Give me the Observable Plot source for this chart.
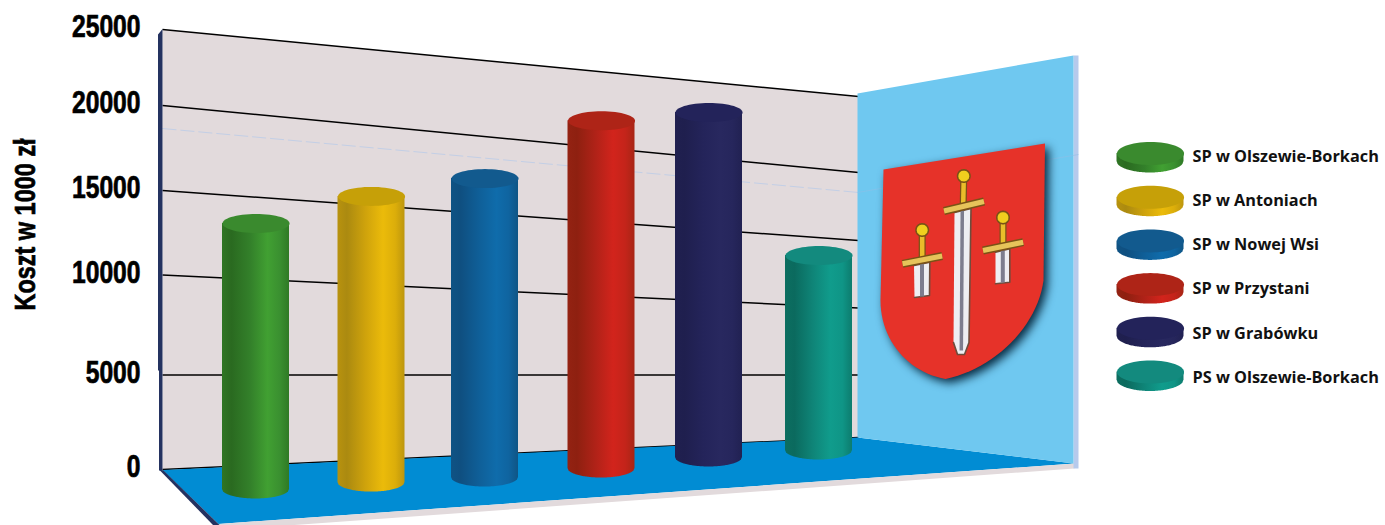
<!DOCTYPE html>
<html>
<head>
<meta charset="utf-8">
<script src="https://cdn.jsdelivr.net/npm/d3@7"></script>
<script src="https://cdn.jsdelivr.net/npm/@observablehq/plot@0.6"></script>
<style>
html,body{margin:0;padding:0;background:#fff;overflow:hidden}
svg{display:block}
</style>
</head>
<body>
<div id="chart"></div>
<script>
// ---- data ----
const categories = ["SP w Olszewie-Borkach","SP w Antoniach","SP w Nowej Wsi","SP w Przystani","SP w Grabówku","PS w Olszewie-Borkach"];
const values = [13050,14650,15700,19100,19590,11150];
const floorLevels = [-1070,-700,-430,50,635,1005];
const yTicks = [0,5000,10000,15000,20000,25000];
const yTitle = "Koszt w 1000 zł";

// ---- styles ----
const palette = [
  {top:"#3a8a2e",stops:["#2f7524","#2a6a20","#33802a","#41a032","#3a9030","#2f7a25"]},
  {top:"#c6a008",stops:["#b8920e","#ab8a10","#cfa30c","#ebbb0a","#dcae0a","#bd960e"]},
  {top:"#125a8e",stops:["#0f5384","#0f4f80","#0f5f98","#0f6cab","#0f64a0","#0f5585"]},
  {top:"#ae2417",stops:["#942212","#8e2010","#b02218","#d2241c","#c4241a","#a82515"]},
  {top:"#23235a",stops:["#202050","#1f1f4e","#24245a","#28285f","#26265c","#212152"]},
  {top:"#138a7e",stops:["#0c6e60","#0b6a5e","#0f8578","#109c8c","#0f9586","#0d7c6e"]}
];
const stopAt = [0,0.14,0.42,0.68,0.86,1];
const axisFont = "'Liberation Sans',sans-serif";
const legendFont = "'Open Sans',sans-serif";

// ---- layout ----
const W = 1385, H = 525;
const yDomain = [-3000,0,5000,10000,15000,20000,25000,26880];
const yRange  = [525,469,374.5,274.5,190,105,29,0];
const yp = d3.scaleLinear(yDomain,yRange);   // value -> pixel of the back wall's left edge
const yv = px => yp.invert(px);
const xCentres = [255.5,371,484.5,601,708.5,818.5];
const gridRight = {0:437,5000:374.5,10000:307.5,15000:240,20000:172,25000:96};

const pt = (x,y) => ({x,v:yv(y)});
const poly = (pts,o) => Plot.line(pts.map(p=>pt(p[0],p[1])),{x:"x",y:"v",stroke:"none",...o});

function ellipsePts(cx,cy,rx,ry){
  return d3.range(0,61).map(i=>{const a=i/60*2*Math.PI;return [cx+rx*Math.cos(a),cy+ry*Math.sin(a)];});
}
function cylinder(i,cx,topPx,botPx,rx,ry){
  const body = d3.range(-rx,rx+0.01,1).map(dx=>{
    const arc = ry*Math.sqrt(Math.max(0,1-dx*dx/(rx*rx)));
    return {x:cx+dx,y1:yv(botPx+arc),y2:yv(topPx)};
  });
  return [
    Plot.areaY(body,{x:"x",y1:"y1",y2:"y2",fill:`url(#cyl${i})`}),
    poly(ellipsePts(cx,topPx,rx,ry),{fill:palette[i].top})
  ];
}
function bez(p0,p1,p2,p3,n=24){
  return d3.range(0,n+1).map(k=>{const t=k/n,u=1-t;
    return [0,1].map(j=>u*u*u*p0[j]+3*u*u*t*p1[j]+3*u*t*t*p2[j]+t*t*t*p3[j]);});
}

function defsMark(){
  const defs = d3.create("svg:defs");
  palette.forEach((c,i)=>{
    const g = defs.append("linearGradient").attr("id",`cyl${i}`).attr("x1",0).attr("x2",1).attr("y1",0).attr("y2",0);
    c.stops.forEach((s,k)=>g.append("stop").attr("offset",stopAt[k]).attr("stop-color",s));
  });
  return defs.node();
}

function sword(pommel,grip,guardA,guardB,bladePts,stripe,r){
  const gold="#e9bd2a", dark="#7a5216";
  const soft="blur(0.5px)";
  const seg=(a,b,w,c)=>Plot.line([pt(...a),pt(...b)],{x:"x",y:"v",stroke:c,strokeWidth:w,strokeLinecap:"butt",imageFilter:soft});
  return [
    poly(bladePts,{fill:"#eeeef2",stroke:"#6e4c3c",strokeWidth:1.6,imageFilter:soft}),
    seg(stripe[0],stripe[1],stripe[2],"#7d7d8e"),
    seg(pommel,grip,7,dark),
    seg(pommel,grip,4.5,gold),
    seg(guardA,guardB,8,dark),
    seg(guardA,guardB,5,"#e6c35a"),
    poly(ellipsePts(pommel[0],pommel[1],r,r),{fill:"#f0cf1e",stroke:dark,strokeWidth:1.6,imageFilter:soft})
  ];
}

const shieldPts = [[883,169],[1044.5,143],[1043,280],
  ...bez([1043,280],[1037,325],[995,368],[945,378.5]),
  ...bez([945,378.5],[908,372],[880,340],[880,300]).slice(1)];

const legendDisc = i => 157+43.7*i;
const legendText = i => 156+44.2*i;

const marks = [
  defsMark,
  // back wall
  poly([[162,29],[858,96],[858,437],[162,469]],{fill:"#e2dadc"}),
  // gridlines
  Plot.link(yTicks,{x1:162,x2:858,y1:d=>d,y2:d=>yv(gridRight[d]),stroke:"#000",strokeWidth:1.5}),
  // pale wall line
  Plot.link([0],{x1:162,x2:858,y1:()=>yv(128),y2:()=>yv(192),stroke:"#c3cfe6",strokeWidth:1,strokeDasharray:"14 4"}),
  // left axis band
  poly([[157.5,34],[162,28.5],[162,470],[158.5,470],[158.5,370],[157.5,370]],{fill:"#243260"}),
  // floor
  poly([[162,469.5],[857,437],[1074,463],[218,523.5]],{fill:"#018cd3"}),
  poly([[218,523.5],[1074,463],[1074,468],[218,530]],{fill:"#e2dadc"}),
  poly([[158.5,469],[163,470],[219.5,525],[213,525]],{fill:"#243260"}),
  // right panel
  poly([[1073,55],[1078,55],[1078,468],[1073,468]],{fill:"#b6caec"}),
  poly([[857,93],[1073,55],[1073,463],[857,437]],{fill:"#6fc8f0"}),
  Plot.link([0],{x1:857,x2:1078,y1:()=>yv(192),y2:()=>yv(154),stroke:"#8fbfe6",strokeWidth:0.8,strokeOpacity:0.7}),
  // emblem
  poly(shieldPts,{fill:"#e63229",imageFilter:"drop-shadow(4px 4px 5px #072a40)"}),
  ...sword([963.3,175.5],[962.7,205],[943.5,210.5],[983.5,201],
    [[954,212],[970.5,208],[968.5,342],[964,354],[957,354],[953,342]],[[961.8,210],[960.8,350],3.5],6.2),
  ...sword([921.7,229.5],[921.7,258],[902,263.3],[941.7,255.5],
    [[913.5,265],[929.3,261.7],[929,295],[914,297]],[[921.5,263],[921.5,296],4],6.2),
  ...sword([1002.5,217],[1002.5,246],[982.5,250],[1022.7,241.7],
    [[995,251.7],[1009.3,248.3],[1009.3,281.7],[995,283.3]],[[1002.3,250],[1002.3,282],4],6.2),
  // cylinders
  ...categories.flatMap((c,i)=>cylinder(i,xCentres[i],yp(values[i]),yp(floorLevels[i]),33.5,9.5)),
  // legend discs and labels
  ...categories.flatMap((c,i)=>cylinder(i,1150,legendDisc(i)-4,legendDisc(i)+4,33.5,11.5)),
  Plot.text(categories,{x:()=>1192,y:(d,i)=>yv(legendText(i)),text:d=>d,textAnchor:"start",fontFamily:legendFont,fontWeight:700,fontSize:16.3,fill:"#111"}),
  // axis
  Plot.axisY(yTicks,{anchor:"left",tickSize:0,tickPadding:0,label:null,tickFormat:d=>String(d),dy:-2,
    fontFamily:axisFont,fontWeight:700,fontSize:31,color:"#000",fill:"#000"}),
  Plot.text([yTitle],{x:()=>25,y:()=>yv(224),text:d=>d,rotate:-90,fontFamily:axisFont,fontWeight:700,fontSize:30,fill:"#000"})
];

const chart = Plot.plot({
  width:W,height:H,
  marginLeft:140,marginRight:0,marginTop:0,marginBottom:0,
  style:{background:"#fff",overflow:"hidden"},
  x:{type:"linear",domain:[0,W],range:[0,W],axis:null},
  y:{type:"linear",domain:yDomain,range:yRange,axis:null},
  marks
});
// the reference's type is condensed and heavy: squeeze the sans glyphs to its measured widths
const tickLabels = new Set(yTicks.map(String));
chart.querySelectorAll("text").forEach(t=>{
  const s = t.textContent;
  if (tickLabels.has(s) || s===yTitle) {
    t.setAttribute("textLength",s===yTitle ? 172 : s.length*13.7);
    t.setAttribute("lengthAdjust","spacingAndGlyphs");
    t.setAttribute("stroke","#000");
    t.setAttribute("stroke-width","0.7");
  }
});
document.getElementById("chart").appendChild(chart);
</script>
</body>
</html>
